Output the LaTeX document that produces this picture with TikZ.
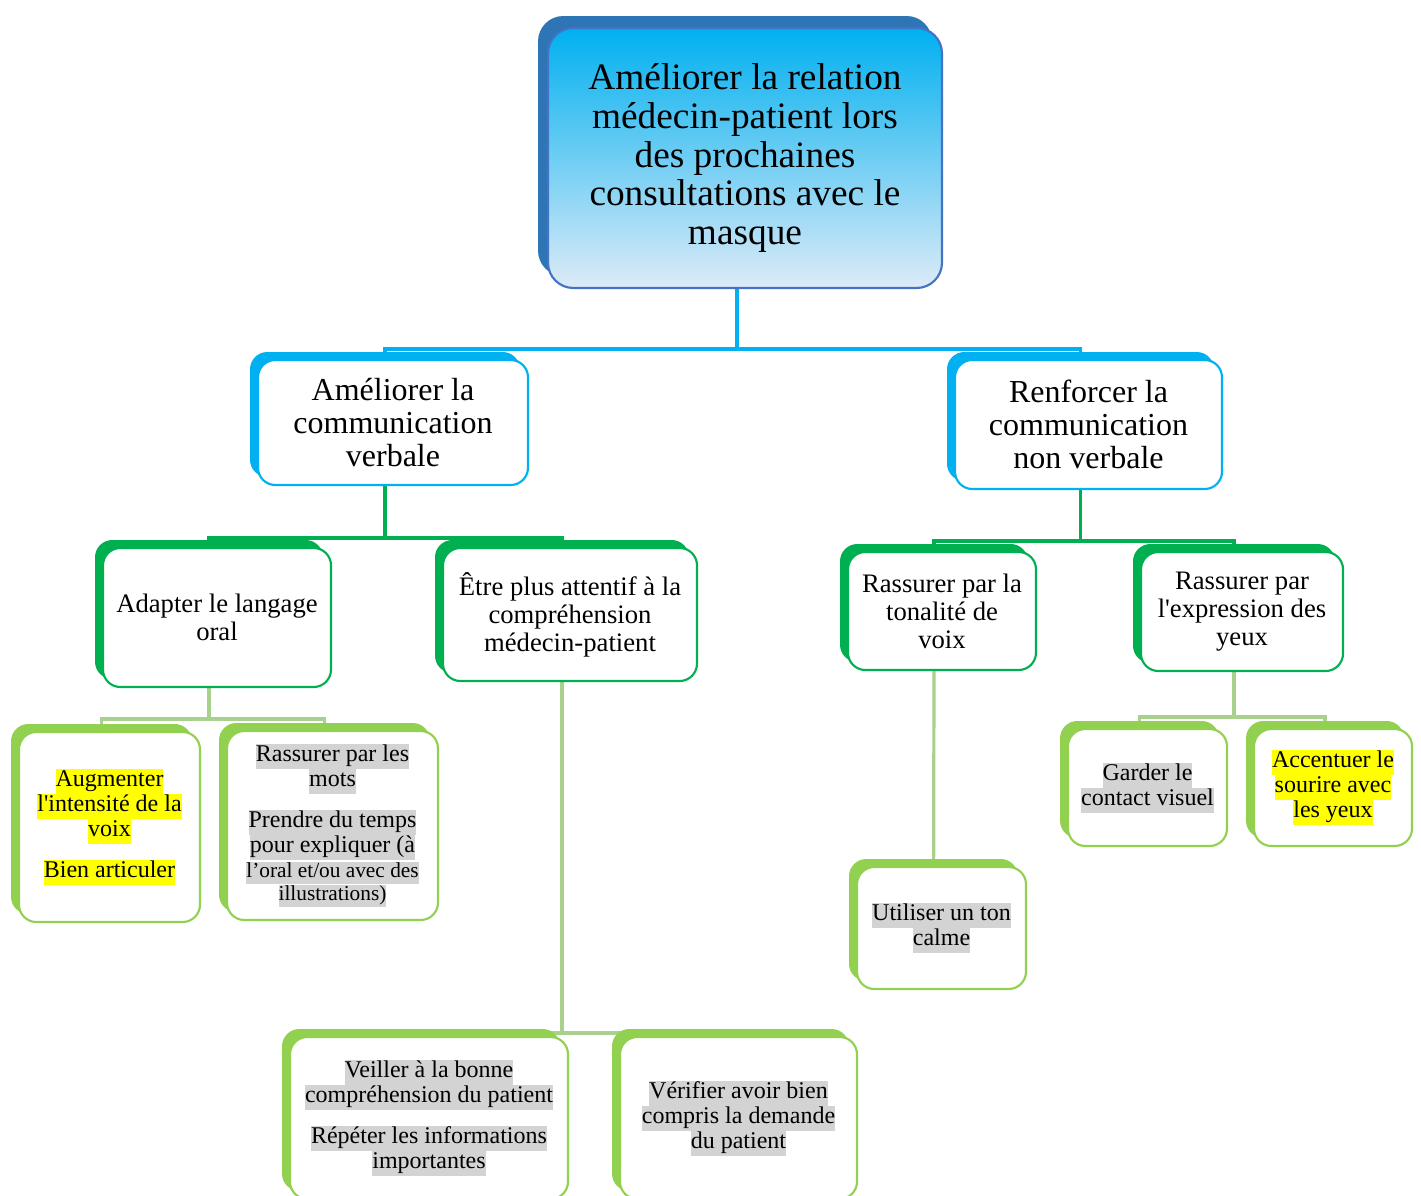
\documentclass[tikz,border=0pt]{standalone}
\usepackage{fontspec}
\setmainfont{Liberation Serif}
\usetikzlibrary{shadows}

\definecolor{rootblue}{RGB}{46,117,182}
\definecolor{rootline}{RGB}{68,114,196}
\definecolor{cyanblue}{RGB}{0,176,240}
\definecolor{paleblue}{RGB}{221,235,247}
\definecolor{darkgreen}{RGB}{0,176,80}
\definecolor{lightgreen}{RGB}{146,208,80}
\definecolor{linkgreen}{RGB}{169,209,142}
\definecolor{hlyellow}{RGB}{255,255,0}
\definecolor{hlgray}{RGB}{211,211,211}

\pgfdeclarelayer{links}
\pgfsetlayers{links,main}

\newcommand{\hly}[1]{{\setlength{\fboxsep}{0pt}\colorbox{hlyellow}{\strut #1}}}
\newcommand{\hlg}[1]{{\setlength{\fboxsep}{0pt}\colorbox{hlgray}{\strut #1}}}

\begin{document}
\begin{tikzpicture}[x=0.75pt, y=-0.75pt,
    rootbox/.style={draw=rootline, line width=1.6pt, rounded corners=19pt,
        top color=cyanblue, bottom color=paleblue, align=center,
        font=\fontsize{28}{29}\selectfont,
        general shadow={fill=rootblue, shadow xshift=-7.5pt, shadow yshift=9pt}},
    mainbox/.style={draw=cyanblue, fill=white, line width=1.6pt, rounded corners=13pt,
        align=center, font=\fontsize{24}{24.75}\selectfont,
        general shadow={fill=cyanblue, shadow xshift=-6pt, shadow yshift=6pt}},
    subbox/.style={draw=darkgreen, fill=white, line width=1.6pt, rounded corners=13pt,
        align=center, font=\fontsize{20}{21}\selectfont,
        general shadow={fill=darkgreen, shadow xshift=-6pt, shadow yshift=6pt}},
    leafbox/.style={draw=lightgreen, fill=white, line width=1.6pt, rounded corners=13pt,
        align=center, font=\fontsize{18}{18.75}\selectfont,
        general shadow={fill=lightgreen, shadow xshift=-6pt, shadow yshift=6pt}},
    bluelink/.style={draw=cyanblue, line width=2.4pt},
    greenlink/.style={draw=darkgreen, line width=2.4pt},
    palelink/.style={draw=linkgreen, line width=2.4pt}]

    \useasboundingbox (0,0) rectangle (1421,1196);

    % Draw the main goal
    \node[rootbox, minimum width=295.5pt, minimum height=195pt] (root) at (745,158)
        {Améliorer la relation\\ médecin-patient lors\\ des prochaines\\ consultations avec le\\ masque};

    % Draw the two ways of communicating
    \node[mainbox, minimum width=202.5pt, minimum height=93.75pt] (verb) at (393,422.5)
        {Améliorer la\\ communication\\ verbale};
    \node[mainbox, minimum width=200.25pt, minimum height=96.75pt] (nonverb) at (1088.5,424.5)
        {Renforcer la\\ communication\\ non verbale};

    % Draw the second level
    \node[subbox, minimum width=171pt, minimum height=104.25pt] (langage) at (217,617.5)
        {Adapter le langage\\ oral};
    \node[subbox, minimum width=190.5pt, minimum height=99.75pt] (attentif) at (570,614.5)
        {Être plus attentif à la\\ compréhension\\ médecin-patient};
    \node[subbox, minimum width=141pt, minimum height=88.5pt] (tonalite) at (942,611)
        {Rassurer par la\\ tonalité de\\ voix};
    \node[subbox, minimum width=151.5pt, minimum height=89.25pt] (yeux) at (1242,611.5)
        {Rassurer par\\ l\textquotesingle expression des\\ yeux};

    % Draw the concrete actions
    \node[leafbox, minimum width=135.75pt, minimum height=142.5pt] (intensite) at (109.5,827)
        {\hly{Augmenter}\\ \hly{l\textquotesingle intensité de la}\\ \hly{voix}\\[12pt] \hly{Bien articuler}};
    \node[leafbox, minimum width=158.25pt, minimum height=141.75pt] (mots) at (332.5,825.5)
        {\hlg{Rassurer par les}\\ \hlg{mots}\\[12pt] \hlg{Prendre du temps}\\ \hlg{pour expliquer (à}\\
         {\fontsize{16}{16.5}\selectfont\hlg{l’oral et/ou avec des}}\\[-2pt]
         {\fontsize{16}{16.5}\selectfont\hlg{illustrations)}}};
    \node[leafbox, minimum width=208.5pt, minimum height=121.5pt] (veiller) at (429,1118)
        {\hlg{Veiller à la bonne}\\ \hlg{compréhension du patient}\\[12pt] \hlg{Répéter les informations}\\ \hlg{importantes}};
    \node[leafbox, minimum width=177.75pt, minimum height=121.5pt] (verifier) at (738.5,1118)
        {\hlg{Vérifier avoir bien}\\ \hlg{compris la demande}\\ \hlg{du patient}};
    \node[leafbox, minimum width=126.75pt, minimum height=91.5pt] (calme) at (941.5,928)
        {\hlg{Utiliser un ton}\\ \hlg{calme}};
    \node[leafbox, minimum width=119.25pt, minimum height=87.75pt] (contact) at (1147.5,787.5)
        {\hlg{Garder le}\\ \hlg{contact visuel}};
    \node[leafbox, minimum width=118.5pt, minimum height=87.75pt] (sourire) at (1333,787.5)
        {\hly{Accentuer le}\\ \hly{sourire avec}\\ \hly{les yeux}};

    % Draw the links behind the boxes
    \begin{pgfonlayer}{links}
        \coordinate (rootbus) at (737,349);
        \draw[bluelink] ([xshift=-6pt]root.south) |- (rootbus);
        \draw[bluelink] (rootbus) -| ([xshift=-6pt]verb.center);
        \draw[bluelink] (rootbus) -| ([xshift=-6pt]nonverb.center);

        \coordinate (verbbus) at (385,538);
        \draw[greenlink] ([xshift=-6pt]verb.south) |- (verbbus);
        \draw[greenlink] (verbbus) -| ([xshift=-6pt]langage.center);
        \draw[greenlink] (verbbus) -| ([xshift=-6pt]attentif.center);

        \coordinate (nonverbbus) at (1081,541);
        \draw[greenlink] ([xshift=-6pt]nonverb.south) |- (nonverbbus);
        \draw[greenlink] (nonverbbus) -| ([xshift=-6pt]tonalite.center);
        \draw[greenlink] (nonverbbus) -| ([xshift=-6pt]yeux.center);

        \coordinate (langagebus) at (209,719);
        \draw[palelink] ([xshift=-6pt]langage.south) |- (langagebus);
        \draw[palelink] (langagebus) -| ([xshift=-6pt]intensite.center);
        \draw[palelink] (langagebus) -| ([xshift=-6pt]mots.center);

        \coordinate (attentifbus) at (562,1033);
        \draw[palelink] ([xshift=-6pt]attentif.south) |- (attentifbus);
        \draw[palelink] (attentifbus) -| ([xshift=-6pt]veiller.center);
        \draw[palelink] (attentifbus) -| ([xshift=-6pt]verifier.center);

        \draw[palelink] ([xshift=-6pt]tonalite.south) -- ([xshift=-6pt]calme.center);

        \coordinate (yeuxbus) at (1234,717);
        \draw[palelink] ([xshift=-6pt]yeux.south) |- (yeuxbus);
        \draw[palelink] (yeuxbus) -| ([xshift=-6pt]contact.center);
        \draw[palelink] (yeuxbus) -| ([xshift=-6pt]sourire.center);
    \end{pgfonlayer}

\end{tikzpicture}
\end{document}
